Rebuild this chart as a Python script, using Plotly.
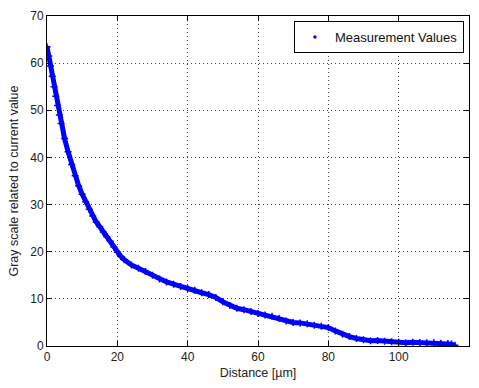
import plotly.graph_objects as go

# Gray-scale profile along the distance from the edge
distance_um = [0, 0.5, 1, 1.5, 2, 2.5, 3, 3.5, 4, 5, 6, 7, 8, 9, 10, 11, 12, 13, 14, 15,
               16, 17, 18, 19, 20, 21, 22, 24, 26, 28, 30, 32, 34, 36, 38, 40, 42, 44, 46, 48,
               50, 52, 54, 56, 58, 60, 62, 64, 66, 68, 70, 72, 74, 76, 78, 80, 82, 84, 86, 88,
               90, 92, 94, 96, 98, 100, 102, 104, 106, 108, 110, 112, 114, 115, 116]
gray_value = [63.5, 61.5, 59.4, 57.2, 55.0, 53.0, 51.0, 49.0, 47.2, 44.0, 41.2, 38.5, 36.1, 34.0,
              32.2, 30.6, 29.0, 27.6, 26.3, 25.3, 24.2, 23.2, 22.2, 21.0, 19.9, 19.0, 18.3, 17.2,
              16.5, 15.8, 15.0, 14.2, 13.6, 13.1, 12.6, 12.2, 11.8, 11.3, 10.9, 10.3, 9.4, 8.6,
              8.0, 7.7, 7.3, 6.9, 6.6, 6.3, 5.9, 5.3, 5.0, 4.9, 4.7, 4.4, 4.2, 3.9, 3.2, 2.5,
              2.0, 1.6, 1.3, 1.1, 1.15, 1.0, 0.9, 0.8, 0.7, 0.8, 0.75, 0.7, 0.7, 0.6, 0.55, 0.4,
              0.15]

x_ticks = [0, 20, 40, 60, 80, 100, 120]
y_ticks = [0, 10, 20, 30, 40, 50, 60, 70]

blue = "#0000ff"
font = "Liberation Sans, Arial, sans-serif"

fig = go.Figure()
# dense band of measurement dots
fig.add_trace(go.Scatter(
    x=distance_um, y=gray_value, mode="lines+markers",
    line=dict(color=blue, width=5),
    marker=dict(color=blue, size=5, symbol="cross-thin", line=dict(color=blue, width=1.5)),
    showlegend=False, hoverinfo="skip",
))
# legend entry
fig.add_trace(go.Scatter(
    x=distance_um, y=gray_value, mode="markers",
    marker=dict(color=blue, size=3.5),
    name="Measurement Values",
))

axis_common = dict(
    showline=True, linecolor="black", linewidth=1, mirror="ticks",
    ticks="inside", ticklen=5, tickcolor="black",
    showgrid=True, gridcolor="#444444", gridwidth=1, griddash="1px,3px",
    zeroline=False,
    tickfont=dict(family=font, size=12, color="#222222"),
)

fig.update_xaxes(range=[0, 120], tickvals=x_ticks,
                 title=dict(text="Distance [µm]", font=dict(family=font, size=12.5, color="#222222"),
                            standoff=4),
                 **axis_common)
fig.update_yaxes(range=[0, 70], tickvals=y_ticks,
                 title=dict(text="Gray scale related to current value",
                            font=dict(family=font, size=12.5, color="#222222"), standoff=8),
                 **axis_common)

fig.update_layout(
    width=479, height=388,
    margin=dict(l=47, r=9, t=14, b=42),
    paper_bgcolor="white", plot_bgcolor="white",
    font=dict(family=font, color="#222222"),
    legend=dict(x=0.988, y=0.985, xanchor="right", yanchor="top",
                bgcolor="white", bordercolor="black", borderwidth=1,
                font=dict(family=font, size=13, color="#111111"),
                itemwidth=30, tracegroupgap=0),
)

fig.write_html("out.html")
